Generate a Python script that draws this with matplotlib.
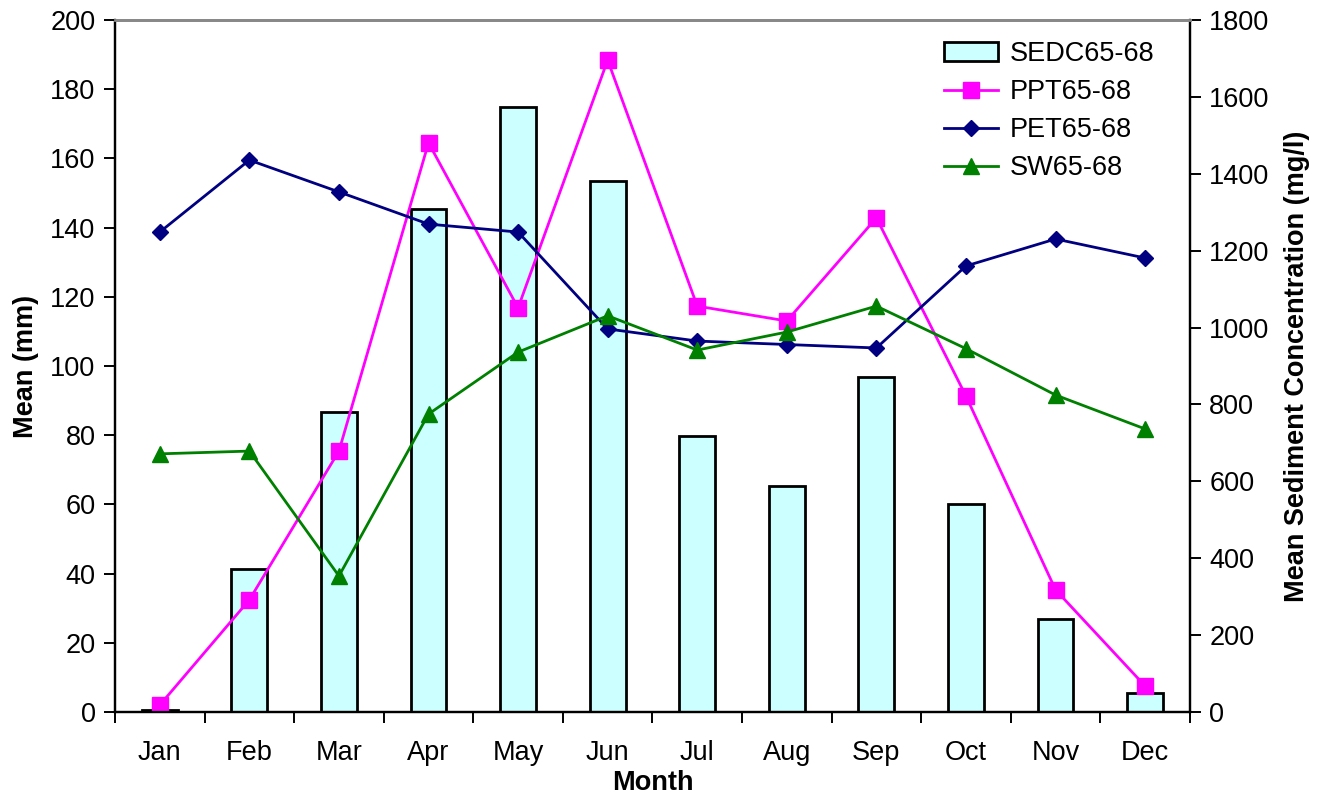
import numpy as np
import matplotlib
matplotlib.use("Agg")
import matplotlib.pyplot as plt

plt.rcParams['font.family'] = ['Liberation Sans', 'DejaVu Sans']

# monthly means, 1965-68
months = ["Jan", "Feb", "Mar", "Apr", "May", "Jun",
          "Jul", "Aug", "Sep", "Oct", "Nov", "Dec"]
sedc = [4, 372, 780, 1308, 1574, 1381, 718, 588, 871, 541, 242, 49]
ppt = [2, 32.4, 75.4, 164.5, 116.8, 188.4, 117.3, 113, 142.8, 91.3, 35.3, 7.5]
pet = [138.7, 159.5, 150.3, 141, 138.7, 110.7, 107.2, 106.2, 105.2, 128.9, 136.7, 131.2]
sw = [74.6, 75.4, 39.3, 86.1, 104, 114.5, 104.6, 109.8, 117.3, 105, 91.6, 81.8]

x = np.arange(len(months))
fs = 19.5

fig = plt.figure(figsize=(13.31, 7.98), dpi=100)
ax = fig.add_axes([0.0864, 0.1078, 0.8076, 0.8672])
ax2 = ax.twinx()

# sediment bars on the right axis, lines drawn on top
bars = ax2.bar(x, sedc, width=0.4, color="#CCFFFF", edgecolor="black",
               linewidth=2.0, label="SEDC65-68")
ax.set_zorder(ax2.get_zorder() + 1)
ax.patch.set_visible(False)

l1, = ax.plot(x, ppt, color="#FF00FF", lw=2.0, marker="s", ms=11,
              label="PPT65-68")
l2, = ax.plot(x, pet, color="#000080", lw=2.0, marker="D", ms=8.5,
              label="PET65-68")
l3, = ax.plot(x, sw, color="#008000", lw=2.0, marker="^", ms=11.5,
              label="SW65-68")

ax.set_xlim(-0.5, 11.5)
ax.set_ylim(0, 200)
ax2.set_ylim(0, 1800)
ax.set_yticks(np.arange(0, 201, 20))
ax2.set_yticks(np.arange(0, 1801, 200))

ax.set_xticks(x)
ax.set_xticklabels(months)
ax.set_xticks(np.arange(-0.5, 12, 1), minor=True)
ax.tick_params(axis="x", which="major", length=0, pad=20, labelsize=fs)
ax.tick_params(axis="x", which="minor", length=8, width=1.4, direction="out")
ax.tick_params(axis="y", length=8, width=1.4, direction="out", labelsize=fs, pad=6)
ax2.tick_params(axis="y", length=8, width=1.4, direction="out", labelsize=fs, pad=6)

for a in (ax, ax2):
    a.spines["top"].set_color("#888888")
    a.spines["top"].set_linewidth(2.0)
    for s in ("left", "right", "bottom"):
        a.spines[s].set_color("black")
        a.spines[s].set_linewidth(1.6)

ax.set_xlabel("Month", fontsize=fs, fontweight="bold", labelpad=3)
ax.set_ylabel("Mean (mm)", fontsize=fs, fontweight="bold", labelpad=8)
ax2.set_ylabel("Mean Sediment Concentration (mg/l)", fontsize=fs,
               fontweight="bold", labelpad=10)

ax.legend([bars, l1, l2, l3],
          ["SEDC65-68", "PPT65-68", "PET65-68", "SW65-68"],
          loc="upper right", bbox_to_anchor=(0.99, 1.005), frameon=False,
          fontsize=fs, handlelength=2.0, handletextpad=0.45,
          labelspacing=0.45)

fig.savefig("out.png", dpi=100)
